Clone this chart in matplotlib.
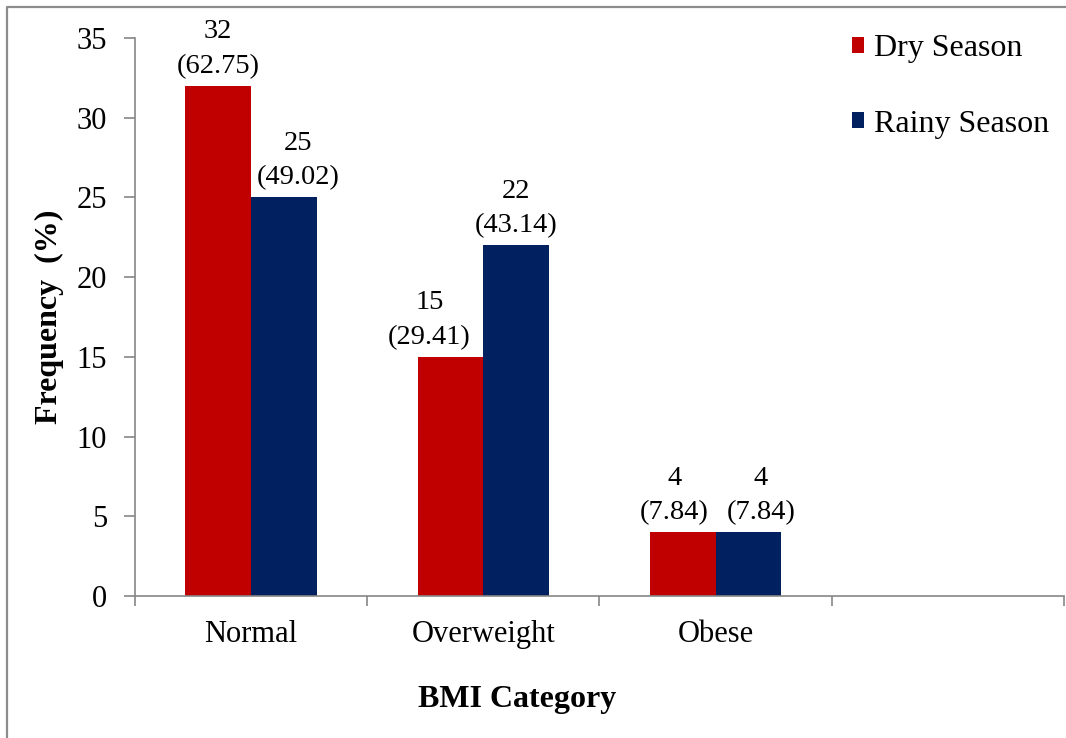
import matplotlib
matplotlib.use('Agg')
import numpy as np
import matplotlib.pyplot as plt
from matplotlib.lines import Line2D

plt.rcParams['font.family'] = ['Liberation Serif', 'DejaVu Serif']

categories = ['Normal', 'Overweight', 'Obese', '']
dry = [32, 15, 4]
rainy = [25, 22, 4]
dry_pct = [62.75, 29.41, 7.84]
rainy_pct = [49.02, 43.14, 7.84]

RED = '#C00000'
NAVY = '#002060'
GRAY = '#868686'

# small sideways nudges (points) so neighbouring labels don't collide
dry_nudge = [0, -15, -6]
rainy_nudge = [10, 0, 9]

fig = plt.figure(figsize=(10.66, 7.38), dpi=100)
ax = fig.add_axes([0.1266, 0.1924, 0.8714, 0.7561])

x = np.arange(len(dry))
w = 0.283
bars_dry = ax.bar(x - w / 2, dry, w, color=RED, label='Dry Season')
bars_rainy = ax.bar(x + w / 2, rainy, w, color=NAVY, label='Rainy Season')

for bars, vals, pcts, nudge in [(bars_dry, dry, dry_pct, dry_nudge),
                                (bars_rainy, rainy, rainy_pct, rainy_nudge)]:
    for b, v, p, dx in zip(bars, vals, pcts, nudge):
        ax.annotate(f'{v}\n({p:.2f})', (b.get_x() + b.get_width() / 2, v),
                    xytext=(dx, 5), textcoords='offset points',
                    ha='center', va='bottom', fontsize=20.5, linespacing=1.5)

ax.set_xlim(-0.5, len(categories) - 0.5)
ax.set_ylim(0, 35)
ax.set_yticks(range(0, 36, 5))

# category boundaries get the tick marks, centres get the names
ax.set_xticks(np.arange(len(categories) + 1) - 0.5)
ax.set_xticklabels([])
ax.set_xticks(np.arange(len(categories)), minor=True)
ax.set_xticklabels(categories, minor=True)
ax.tick_params(axis='x', which='major', direction='out', length=7, width=1.2, color=GRAY)
ax.tick_params(axis='x', which='minor', length=0, pad=17, labelsize=22)
ax.tick_params(axis='y', direction='out', length=8, width=1.2, color=GRAY, pad=12, labelsize=22)

for side in ['top', 'right']:
    ax.spines[side].set_visible(False)
for side in ['left', 'bottom']:
    ax.spines[side].set_color(GRAY)
    ax.spines[side].set_linewidth(1.2)

fig.text(0.046, 0.571, 'Frequency  (%)', rotation=90, ha='center', va='center',
         fontsize=23, fontweight='bold')
fig.text(0.485, 0.052, 'BMI Category', ha='center', va='center',
         fontsize=23, fontweight='bold')

ax.legend(loc='upper left', bbox_to_anchor=(0.784, 0.975), bbox_transform=fig.transFigure,
          frameon=False, fontsize=23, handlelength=0.4, handleheight=0.4,
          handletextpad=0.3, labelspacing=1.45, borderpad=0)

# outer frame, only left and top edges fall inside the image
fig.add_artist(Line2D([0.0066, 0.0066, 1.0], [0.0, 0.9905, 0.9905],
                      transform=fig.transFigure, color='#8C8C8C', lw=1.6))

fig.savefig('out.png', dpi=100)
